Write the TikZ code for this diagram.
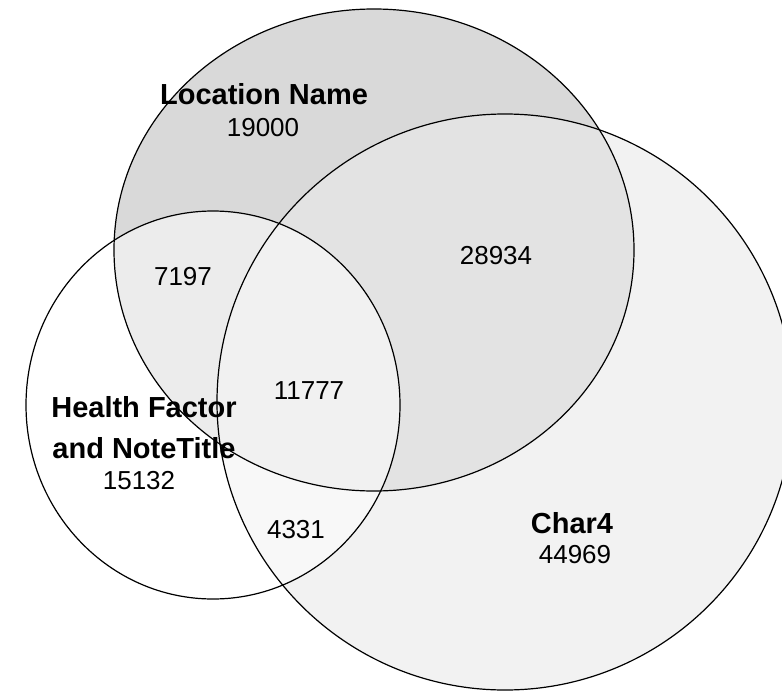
\documentclass[tikz,border=0pt]{standalone}
\usepackage{fontspec}
\setmainfont{Liberation Sans}
\begin{document}
\begin{tikzpicture}[x=1pt,y=-1pt,
  outline/.style={draw=black,line width=1.2pt},
  setlabel/.style={font=\fontsize{29}{33}\selectfont\bfseries,inner sep=0pt},
  countlabel/.style={font=\fontsize{26}{30}\selectfont,inner sep=0pt},
  hlabel/.style={font=\fontsize{29}{41}\selectfont\bfseries,inner sep=0pt,align=center}]
\useasboundingbox (0,0) rectangle (782,691);
\clip (0,0) rectangle (782,691);
\def\locpath{(374,250) ellipse [x radius=260,y radius=241]}
\def\charpath{(505,402) ellipse [x radius=288,y radius=288]}
\def\healthpath{(213,405) ellipse [x radius=187,y radius=194]}
% fills
\fill[color={rgb,255:red,217;green,217;blue,217}] \locpath;
\fill[color={rgb,255:red,242;green,242;blue,242}] \charpath;
\begin{scope}
  \clip \locpath;
  \fill[color={rgb,255:red,227;green,227;blue,227}] \charpath;
\end{scope}
\fill[white,fill opacity=0.5] \healthpath;
% outlines
\draw[outline] \locpath;
\draw[outline] \charpath;
\draw[outline] \healthpath;
% labels
\node[setlabel] (locname) at (264,94) {Location Name};
\node[countlabel] (loccount) at (263,128) {19000};
\node[countlabel] (lh) at (183,277) {7197};
\node[countlabel] (lc) at (496,256) {28934};
\node[countlabel] (lhc) at (309,391) {11777};
\node[hlabel] (hname) at (144,428) {Health Factor\\and NoteTitle};
\node[countlabel] (hcount) at (139,481) {15132};
\node[countlabel] (hc) at (296,530) {4331};
\node[setlabel] (cname) at (572,523) {Char4};
\node[countlabel] (ccount) at (575,555) {44969};
\end{tikzpicture}
\end{document}
